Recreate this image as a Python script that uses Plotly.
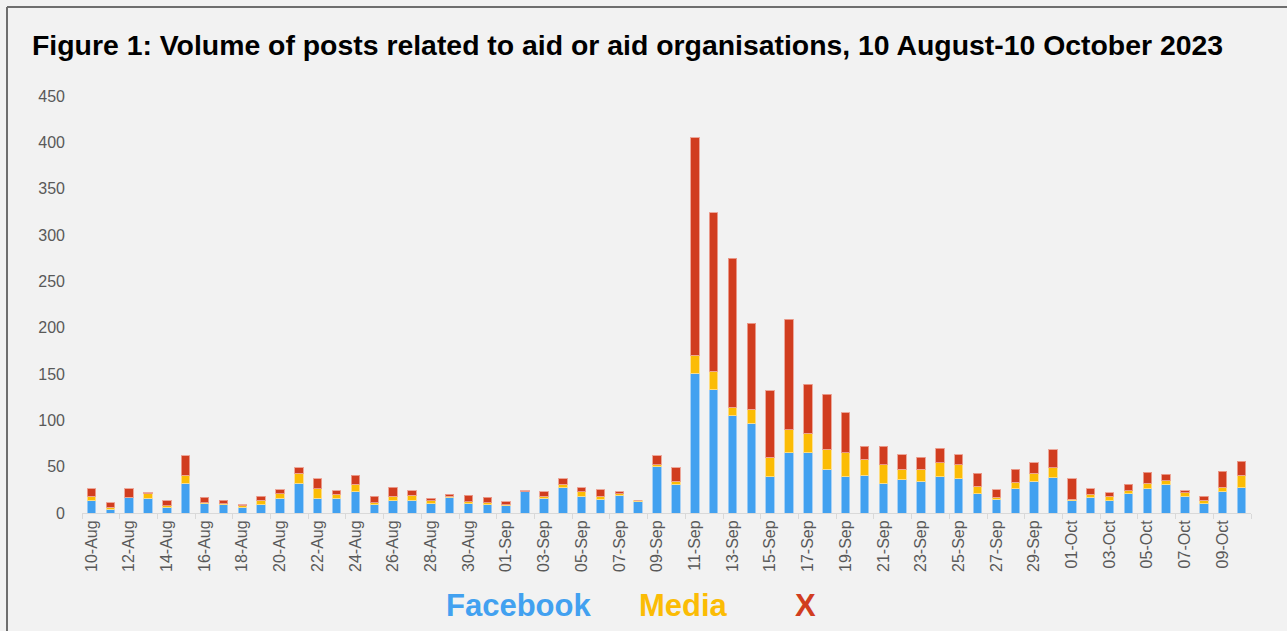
import plotly.graph_objects as go

dates = (
    [f"{d}-Aug" for d in range(10, 32)]
    + [f"{d:02d}-Sep" for d in range(1, 31)]
    + [f"{d:02d}-Oct" for d in range(1, 11)]
)

facebook = [13, 4, 17, 16, 6, 32, 10, 9, 6, 9, 16, 32, 16, 16, 23, 9, 13, 14, 10, 17, 10, 9,
            8, 23, 16, 27, 18, 15, 19, 12, 50, 31, 151, 133, 105, 97, 39, 65, 65, 47, 39,
            41, 32, 36, 34, 39, 37, 21, 15, 26, 34, 38,
            13, 17, 13, 21, 26, 31, 18, 10, 23, 27]
media = [5, 2, 0, 5, 2, 9, 1, 1, 2, 5, 5, 11, 10, 4, 8, 2, 5, 5, 3, 1, 2, 2,
         1, 0, 2, 4, 5, 3, 2, 2, 2, 3, 19, 20, 9, 15, 21, 25, 21, 22, 26,
         17, 20, 11, 13, 15, 15, 8, 2, 7, 9, 11,
         2, 3, 5, 3, 6, 4, 4, 4, 5, 14]
x_posts = [8, 5, 9, 1, 5, 21, 6, 4, 1, 4, 4, 6, 11, 4, 10, 7, 10, 5, 3, 2, 7, 6,
           3, 1, 5, 6, 4, 7, 2, 0, 10, 15, 235, 171, 161, 93, 72, 119, 53, 59, 43,
           14, 20, 16, 13, 16, 11, 14, 8, 14, 11, 19,
           22, 6, 4, 7, 12, 7, 2, 4, 17, 15]

series_names = ["Facebook", "Media", "X"]
colors = ["#42A1F0", "#FBBC05", "#D13D1F"]
edge = ["rgba(160,205,245,0.9)", "rgba(253,222,140,0.9)", "rgba(235,160,145,0.9)"]

W, H = 1287, 631
L, R, T, B = 82, 36, 96, 118
pw, ph = W - L - R, H - T - B

fig = go.Figure()
for name, vals, c, e in zip(series_names, [facebook, media, x_posts], colors, edge):
    fig.add_trace(go.Bar(x=dates, y=vals, name=name, marker_color=c,
                         marker_line=dict(color=e, width=1), showlegend=False))

font_narrow = "Liberation Sans Narrow, Arial Narrow, Liberation Sans, Arial, sans-serif"

fig.update_layout(
    width=W, height=H,
    barmode="stack", bargap=0.55,
    paper_bgcolor="#F2F2F2", plot_bgcolor="#F2F2F2",
    margin=dict(l=L, r=R, t=T, b=B),
    font=dict(family=font_narrow, color="#595959", size=16),
    xaxis=dict(type="category", tickmode="linear", tick0=0, dtick=2,
               tickson="boundaries", ticks="outside", ticklen=5, tickcolor="#D9D9D9",
               tickwidth=1, showline=True, linecolor="#D9D9D9", linewidth=1,
               tickangle=-90, showgrid=False, tickfont=dict(size=16, color="#595959")),
    yaxis=dict(range=[0, 450], dtick=50, showgrid=False, zeroline=False,
               showline=False, ticklabelstandoff=16,
               tickfont=dict(size=16, color="#595959")),
)

fig.add_annotation(text="<b>Figure 1: Volume of posts related to aid or aid organisations, 10 August-10 October 2023</b>",
                   xref="paper", yref="paper", x=(30 - L) / pw, y=(H - B - 45) / ph,
                   xanchor="left", yanchor="middle", showarrow=False,
                   font=dict(family=font_narrow, size=28.4, color="#000000"))

legend_pos = [518, 683, 805]
for name, c, px in zip(series_names, colors, legend_pos):
    fig.add_annotation(text=f"<b>{name}</b>", xref="paper", yref="paper",
                       x=(px - L) / pw, y=(H - B - 605) / ph, xanchor="center", yanchor="middle",
                       showarrow=False, font=dict(family=font_narrow, size=31, color=c))

# frame lines (top and left)
fig.add_shape(type="line", xref="paper", yref="paper",
              x0=(7 - L) / pw, x1=(W - L) / pw, y0=(H - B - 7) / ph, y1=(H - B - 7) / ph,
              line=dict(color="#6E6E6E", width=2))
fig.add_shape(type="line", xref="paper", yref="paper",
              x0=(7 - L) / pw, x1=(7 - L) / pw, y0=(H - B - 7) / ph, y1=(H - B - H) / ph,
              line=dict(color="#6E6E6E", width=2))

fig.write_html("out.html")
